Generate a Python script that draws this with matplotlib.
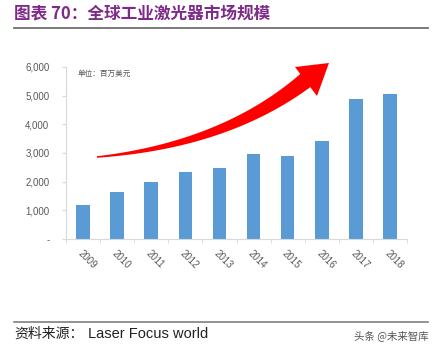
import numpy as np
import matplotlib.pyplot as plt
from matplotlib.patches import Polygon

plt.rcParams['font.family'] = ['Noto Sans CJK SC', 'DejaVu Sans']

# --- data ---------------------------------------------------------------
years = ["2009", "2010", "2011", "2012", "2013",
         "2014", "2015", "2016", "2017", "2018"]
market = [1200, 1640, 1980, 2320, 2480, 2960, 2880, 3420, 4870, 5070]
yticks = [0, 1000, 2000, 3000, 4000, 5000, 6000]
ytick_labels = ["-", "1,000", "2,000", "3,000", "4,000", "5,000", "6,000"]
# ------------------------------------------------------------------------

W, H = 440, 351
fig = plt.figure(figsize=(W / 100, H / 100), dpi=100)
ax = fig.add_axes([66 / W, 1 - 239 / H, (407 - 66) / W, (239 - 67) / H])

x = np.arange(len(years))
ax.bar(x, market, width=0.4, color="#5B9BD5", zorder=2)

ax.set_xlim(-0.5, len(years) - 0.5)
ax.set_ylim(0, 6000)
ax.set_yticks(yticks)
ax.set_yticklabels(ytick_labels, fontsize=7, color="#595959",
                   family=["Liberation Sans", "DejaVu Sans"])
ax.set_xticks(x)
ax.set_xticklabels(years, rotation=-45, ha="left", va="top", fontsize=7,
                   color="#595959", family=["Liberation Sans", "DejaVu Sans"],
                   rotation_mode="anchor")
ax.set_xticks(np.arange(-0.5, len(years), 1), minor=True)
ax.tick_params(axis="x", which="major", length=0, pad=7)
ax.tick_params(axis="x", which="minor", length=3, color="#D9D9D9")
ax.tick_params(axis="y", length=3, color="#D9D9D9", pad=9)
for s in ["top", "right"]:
    ax.spines[s].set_visible(False)
for s in ["left", "bottom"]:
    ax.spines[s].set_color("#D9D9D9")

ax.text(0.035, 0.985, "单位：百万美元", transform=ax.transAxes, fontsize=5.5,
        color="#595959", va="top")

# tapered red arrow (figure pixel coords)
def px(p):
    return (p[0] / W, 1 - p[1] / H)

p0 = np.array([97.0, 157.0])
p1 = np.array([225.0, 145.0])
p2 = np.array([306.0, 80.0])
t = np.linspace(0, 1, 60)
pts = ((1 - t) ** 2)[:, None] * p0 + (2 * (1 - t) * t)[:, None] * p1 + (t ** 2)[:, None] * p2
d = np.gradient(pts, axis=0)
n = np.stack([-d[:, 1], d[:, 0]], axis=1)
n /= np.linalg.norm(n, axis=1)[:, None]
w = 0.8 + 7.5 * t ** 1.1
upper = pts + n * w[:, None]
lower = pts - n * w[:, None]
shaft = np.vstack([upper, lower[::-1]])
fig.patches.append(Polygon([px(p) for p in shaft], closed=True,
                           transform=fig.transFigure, color="#FF0000",
                           lw=0, zorder=5))
head = [(295, 67), (329, 63), (317, 96)]
fig.patches.append(Polygon([px(p) for p in head], closed=True,
                           transform=fig.transFigure, color="#FF0000",
                           lw=0, zorder=5))

# title, separators, source
fig.text(14 / W, 1 - 13 / H, "图表 70：全球工业激光器市场规模", fontsize=12,
         fontweight="bold", color="#7F2A8A", va="center")
fig.add_artist(plt.Line2D([14 / W, 428 / W], [1 - 28 / H, 1 - 28 / H],
                          color="#6F6F6F", lw=1.3, transform=fig.transFigure))
fig.add_artist(plt.Line2D([14 / W, 428 / W], [1 - 322 / H, 1 - 322 / H],
                          color="#7F7F7F", lw=1.2, transform=fig.transFigure))
fig.text(14 / W, 1 - 334 / H, "资料来源：", fontsize=10, color="#222222",
         va="center")
fig.text(88 / W, 1 - 334 / H, "Laser Focus world", fontsize=10.5,
         color="#222222", va="center", family=["Liberation Sans"])
fig.text(428 / W, 1 - 336 / H, "头条 @未来智库", fontsize=7.5,
         color="#555555", va="center", ha="right")

fig.savefig("out.png", dpi=100)
